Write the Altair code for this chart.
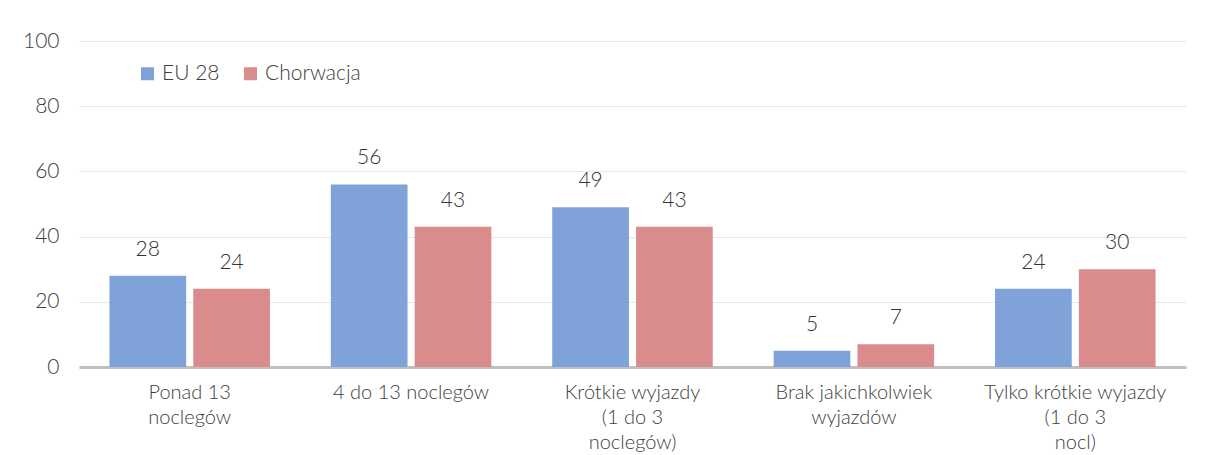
import altair as alt
import pandas as pd

categories = ["Ponad 13|noclegów", "4 do 13 noclegów", "Krótkie wyjazdy|(1 do 3|noclegów)",
              "Brak jakichkolwiek|wyjazdów", "Tylko krótkie wyjazdy|(1 do 3|nocl)"]
series = ["EU 28", "Chorwacja"]
eu28 = [28, 56, 49, 5, 24]
chorwacja = [24, 43, 43, 7, 30]
y_ticks = [0, 20, 40, 60, 80, 100]
colors = ["#7fa2d9", "#da8c8d"]

rows = []
for c, a, b in zip(categories, eu28, chorwacja):
    rows.append({"cat": c, "series": series[0], "value": a})
    rows.append({"cat": c, "series": series[1], "value": b})
df = pd.DataFrame(rows)

FONT = "Lato"
TXT = "#404040"
W = 300

x = alt.X("cat:N", sort=categories, title=None,
          scale=alt.Scale(paddingInner=0.275, paddingOuter=0.1375),
          axis=alt.Axis(labelExpr="split(datum.label, '|')", labelAngle=0,
                        labelFontSize=20, labelColor=TXT, labelFont=FONT, labelFontWeight=W,
                        labelLineHeight=25, labelPadding=15, ticks=False, labelLimit=400,
                        domainColor="#bfbfbf", domainWidth=3, labelBaseline="top"))
xo = alt.XOffset("series:N", sort=series, scale=alt.Scale(paddingInner=0.085))
y = alt.Y("value:Q", title=None,
          scale=alt.Scale(domain=[0, 100]),
          axis=alt.Axis(values=y_ticks, labelFontSize=21, labelColor=TXT, labelFont=FONT,
                        labelFontWeight=W,
                        labelPadding=20, ticks=False, domain=False,
                        gridColor="#e6e6e6", gridWidth=1))

bars = alt.Chart(df).mark_bar(stroke=None).encode(
    x=x, xOffset=xo, y=y,
    color=alt.Color("series:N", sort=series,
                    scale=alt.Scale(domain=series, range=colors),
                    legend=alt.Legend(title=None, orient="none", legendX=58, legendY=22,
                                      direction="horizontal", symbolType="square",
                                      symbolSize=170, symbolStrokeWidth=0,
                                      labelFontSize=21, labelColor=TXT, labelFont=FONT,
                                      labelFontWeight=W,
                                      columnPadding=20, labelOffset=4)),
)

labels = alt.Chart(df).mark_text(baseline="bottom", dy=-16, fontSize=21, color="#333333",
                                 font=FONT, fontWeight=W).encode(
    x=x, xOffset=xo, y=y, text=alt.Text("value:Q"),
)

chart = alt.layer(bars, labels).properties(
    width=1107, height=326,
    padding={"left": 14, "top": 22, "right": 10, "bottom": 5},
).configure(background="white").configure_view(stroke=None)

chart.save("out.html", embed_options={"renderer": "svg", "actions": False})
